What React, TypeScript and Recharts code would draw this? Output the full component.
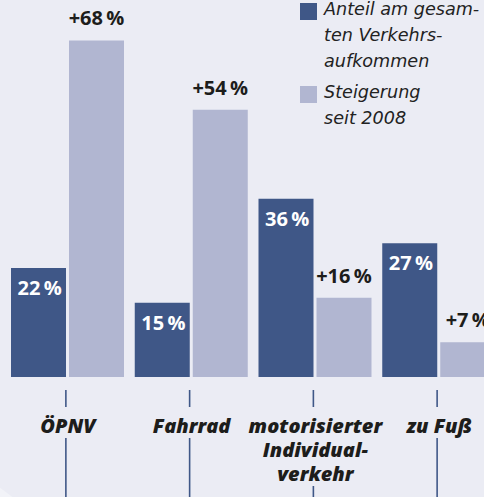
import React from "react";
import { BarChart, Bar, XAxis, YAxis, LabelList } from "recharts";

// category labels, split into lines the way they are printed
const categories: string[][] = [
  ["ÖPNV"],
  ["Fahrrad"],
  ["motorisierter", "Individual-", "verkehr"],
  ["zu Fuß"],
];
// share of total traffic, in %
const anteil = [22, 15, 36, 27];
// increase since 2008, in %
const steigerung = [68, 54, 16, 7];

const legendAnteil = ["Anteil am gesam-", "ten Verkehrs-", "aufkommen"];
const legendSteigerung = ["Steigerung", "seit 2008"];

const DARK = "#3f5787";
const LIGHT = "#b1b6d1";
const BG = "#ebecf4";
const INK = "#1d1d1b";
const FONT = "'Open Sans', sans-serif";

const data = categories.map((lines, i) => ({
  name: lines.join(" "),
  anteil: anteil[i],
  steigerung: steigerung[i],
}));

function CategoryTick(props: any) {
  const { x, y, payload } = props;
  const lines = categories[payload.index] ?? [String(payload.value)];
  const firstBase = y + 56;
  const lastBase = firstBase + (lines.length - 1) * 24;
  return (
    <g>
      <line x1={x - 2} x2={x - 2} y1={y + 13} y2={y + 30} stroke={DARK} strokeWidth={1.6} />
      <text
        textAnchor="middle"
        fontFamily={FONT}
        fontWeight={800}
        fontStyle="italic"
        fontSize={20}
        fill={INK}
      >
        {lines.map((l, i) => (
          <tspan key={i} x={x} y={firstBase + i * 24}>
            {l}
          </tspan>
        ))}
      </text>
      <line x1={x - 2} x2={x - 2} y1={lastBase + 5} y2={y + 130} stroke={DARK} strokeWidth={1.6} />
    </g>
  );
}

function AnteilLabel(props: any) {
  const { x, y, value } = props;
  return (
    <text
      x={x + 6.5}
      y={y + 27}
      fill="#ffffff"
      fontFamily={FONT}
      fontWeight={700}
      fontSize={20}
    >
      {value}{"\u2009"}%
    </text>
  );
}

function SteigerungLabel(props: any) {
  const { x, y, width, value } = props;
  return (
    <text
      x={x + width / 2}
      y={y - 15}
      textAnchor="middle"
      fill={INK}
      fontFamily={FONT}
      fontWeight={700}
      fontSize={20}
    >
      +{value}{"\u2009"}%
    </text>
  );
}

function LegendItem({ color, lines, top }: { color: string; lines: string[]; top: number }) {
  return (
    <div style={{ position: "absolute", left: 300, top, display: "flex" }}>
      <div style={{ width: 17, height: 17, background: color, marginTop: 3, flexShrink: 0 }} />
      <div
        style={{
          marginLeft: 7,
          fontFamily: "'DejaVu Sans', sans-serif",
          fontStyle: "italic",
          fontSize: 17.6,
          lineHeight: "26px",
          color: "#222",
          whiteSpace: "nowrap",
          marginTop: -4,
        }}
      >
        {lines.map((l, i) => (
          <div key={i}>{l}</div>
        ))}
      </div>
    </div>
  );
}

export default function App() {
  return (
    <div
      style={{
        position: "fixed",
        left: 0,
        top: 0,
        width: 484,
        height: 497,
        overflow: "hidden",
        background: BG,
      }}
    >
      {/* lighter circle peeking in at the bottom left */}
      <div
        style={{
          position: "absolute",
          left: -410,
          top: 440,
          width: 520,
          height: 520,
          borderRadius: "50%",
          background: "#f2f3f8",
        }}
      />
      <div style={{ position: "absolute", left: 0, top: 0 }}>
        <BarChart
          width={501}
          height={497}
          data={data}
          margin={{ top: 30.5, right: 0, left: 6, bottom: 0 }}
          barGap={3}
        >
          <XAxis
            dataKey="name"
            axisLine={false}
            tickLine={false}
            tickSize={0}
            tickMargin={0}
            height={120}
            interval={0}
            tick={<CategoryTick />}
          />
          <YAxis hide domain={[0, 70]} />
          <Bar dataKey="anteil" fill={DARK} barSize={55} isAnimationActive={false}>
            <LabelList dataKey="anteil" content={<AnteilLabel />} />
          </Bar>
          <Bar dataKey="steigerung" fill={LIGHT} barSize={55} isAnimationActive={false}>
            <LabelList dataKey="steigerung" content={<SteigerungLabel />} />
          </Bar>
        </BarChart>
      </div>
      <LegendItem color={DARK} lines={legendAnteil} top={0} />
      <LegendItem color={LIGHT} lines={legendSteigerung} top={83} />
    </div>
  );
}
